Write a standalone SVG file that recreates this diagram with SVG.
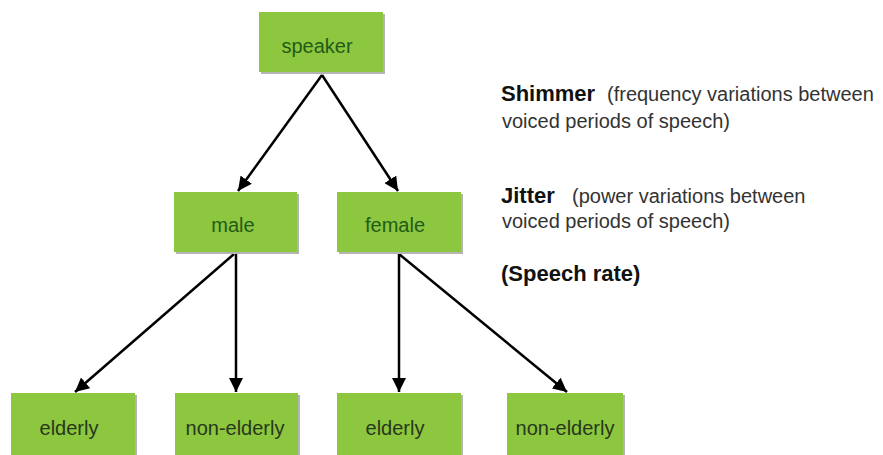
<svg xmlns="http://www.w3.org/2000/svg" width="883" height="455" viewBox="0 0 883 455">
  <style>
    .shadow { fill: #b4b4b4; }
    .box { fill: #8dc63f; }
    .lbl { font-family: "Liberation Sans", Arial, sans-serif; font-size: 20px; text-anchor: middle; }
    .top { fill: #1f5c18; }
    .low { fill: #27381a; }
    .edge { stroke: #000; stroke-width: 2.5; fill: none; marker-end: url(#arrow); }
    .note { font-family: "Liberation Sans", Arial, sans-serif; font-size: 20px; fill: #333; }
    .term { font-size: 22px; font-weight: bold; fill: #111; }
  </style>
  <defs>
    <marker id="arrow" markerUnits="userSpaceOnUse" markerWidth="14" markerHeight="14" refX="14" refY="7" orient="auto">
      <path d="M0,0 L14,7 L0,14 z" fill="#000"/>
    </marker>
  </defs>

  <rect width="883" height="455" fill="#fff"/>

  <!-- connectors -->
  <g id="connectors">
    <line class="edge" x1="322" y1="75" x2="238" y2="191"/>
    <line class="edge" x1="322" y1="75" x2="398" y2="191"/>
    <line class="edge" x1="234" y1="254" x2="75" y2="392"/>
    <line class="edge" x1="236" y1="254" x2="236" y2="392"/>
    <line class="edge" x1="399" y1="254" x2="399" y2="392"/>
    <line class="edge" x1="399" y1="254" x2="567" y2="392"/>
  </g>

  <!-- tree nodes -->
  <g id="speaker">
    <rect class="shadow" x="261" y="14" width="124" height="60"/>
    <rect class="box" x="259" y="12" width="124" height="60"/>
    <text class="lbl top" x="317" y="53">speaker</text>
  </g>
  <g id="male">
    <rect class="shadow" x="176" y="194" width="123" height="60"/>
    <rect class="box" x="174" y="192" width="123" height="60"/>
    <text class="lbl top" x="233" y="232">male</text>
  </g>
  <g id="female">
    <rect class="shadow" x="339" y="194" width="124" height="60"/>
    <rect class="box" x="337" y="192" width="124" height="60"/>
    <text class="lbl top" x="395" y="232">female</text>
  </g>
  <g id="elderly-male">
    <rect class="shadow" x="13" y="395" width="124" height="62"/>
    <rect class="box" x="11" y="393" width="124" height="62"/>
    <text class="lbl low" x="69" y="435">elderly</text>
  </g>
  <g id="non-elderly-male">
    <rect class="shadow" x="177" y="395" width="123" height="62"/>
    <rect class="box" x="175" y="393" width="123" height="62"/>
    <text class="lbl low" x="235" y="435">non-elderly</text>
  </g>
  <g id="elderly-female">
    <rect class="shadow" x="339" y="395" width="124" height="62"/>
    <rect class="box" x="337" y="393" width="124" height="62"/>
    <text class="lbl low" x="395" y="435">elderly</text>
  </g>
  <g id="non-elderly-female">
    <rect class="shadow" x="509" y="395" width="116" height="62"/>
    <rect class="box" x="507" y="393" width="116" height="62"/>
    <text class="lbl low" x="565" y="435">non-elderly</text>
  </g>

  <!-- feature notes -->
  <g id="notes">
    <text class="note" x="501" y="101"><tspan class="term">Shimmer</tspan><tspan x="607">(frequency variations between</tspan></text>
    <text class="note" x="502" y="128">voiced periods of speech)</text>
    <text class="note" x="501" y="203"><tspan class="term">Jitter</tspan><tspan x="572">(power variations between</tspan></text>
    <text class="note" x="502" y="228">voiced periods of speech)</text>
    <text class="note term" x="501" y="281">(Speech rate)</text>
  </g>
</svg>
